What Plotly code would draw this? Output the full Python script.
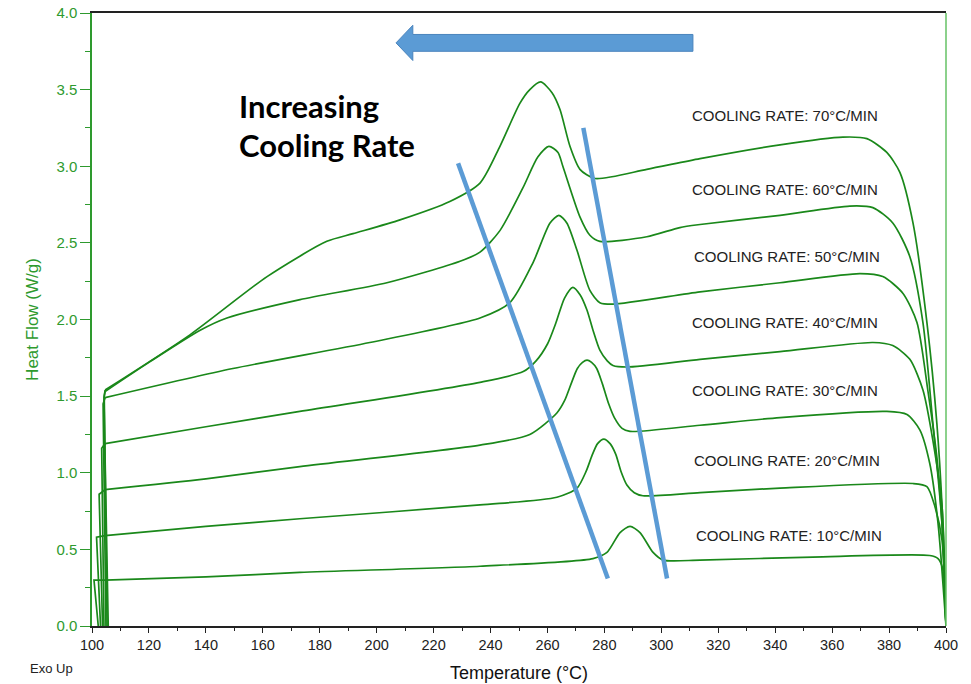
import plotly.graph_objects as go

# ---- data (temperature in °C, heat flow in W/g) ----
rate_labels = ["COOLING RATE: 70°C/MIN", "COOLING RATE: 60°C/MIN", "COOLING RATE: 50°C/MIN",
               "COOLING RATE: 40°C/MIN", "COOLING RATE: 30°C/MIN", "COOLING RATE: 20°C/MIN",
               "COOLING RATE: 10°C/MIN"]
label_hf = [3.33, 2.85, 2.41, 1.98, 1.54, 1.08, 0.59]
label_t = [343.5, 343.5, 344.0, 343.5, 343.5, 344.0, 344.8]

t70 = [400, 398.9, 396.8, 393.3, 388.4, 383.8, 379.2, 372.2, 363.8, 341.7, 313.6, 294.9,
       276.7, 271.4, 267.9, 264.4, 261.6, 257.6, 253.8, 250.3, 243.3, 236.3, 225.7, 208.2,
       191.7, 182.5, 161.5, 134.4, 104.6, 104.3, 105.3]
hf70 = [0, 0.67, 1.32, 1.98, 2.63, 2.96, 3.09, 3.18, 3.19, 3.14, 3.05, 2.98,
        2.92, 2.98, 3.13, 3.37, 3.48, 3.55, 3.50, 3.41, 3.13, 2.89, 2.77, 2.65,
        2.56, 2.51, 2.28, 1.90, 1.54, 1.50, 0]

t60 = [400, 398.6, 395.4, 391.9, 387.3, 381.3, 374.3, 366.2, 341.7, 313.6, 306.5, 294.9,
       278.4, 274.9, 271.4, 265.4, 263.7, 260.5, 256.6, 251.4, 243.3, 236.3, 229.3, 203.6,
       173.1, 147.4, 138.0, 120.0, 104.6, 104.2, 105.7]
hf60 = [0, 0.67, 1.32, 1.98, 2.41, 2.63, 2.73, 2.74, 2.68, 2.62, 2.60, 2.54,
        2.51, 2.55, 2.67, 3.00, 3.09, 3.13, 3.06, 2.86, 2.58, 2.44, 2.38, 2.24,
        2.13, 2.01, 1.93, 1.72, 1.53, 1.49, 0]

t50 = [400, 398.9, 396.8, 393.6, 389.8, 384.9, 377.8, 369.8, 341.7, 313.6, 283.0, 278.4,
       274.9, 270.4, 266.8, 264.0, 260.9, 254.9, 246.8, 236.3, 197.6, 149.5, 104.6, 103.9, 104.9]
hf50 = [0, 0.56, 1.10, 1.54, 1.98, 2.17, 2.28, 2.30, 2.24, 2.18, 2.10, 2.11,
        2.19, 2.45, 2.63, 2.68, 2.63, 2.37, 2.11, 2.01, 1.85, 1.68, 1.49, 1.45, 0]

t40 = [400, 398.6, 395.4, 391.9, 387.3, 381.3, 374.3, 341.7, 313.6, 287.9, 283.0, 281.0,
       278.4, 276.0, 273.9, 271.5, 268.9, 266.0, 263.0, 260.0, 256.0, 251.5, 236.3, 173.0,
       140.0, 104.6, 103.4, 104.2]
hf40 = [0, 0.78, 1.21, 1.54, 1.74, 1.83, 1.85, 1.79, 1.74, 1.69, 1.70, 1.73,
        1.80, 1.93, 2.06, 2.16, 2.21, 2.14, 1.98, 1.84, 1.73, 1.66, 1.59, 1.40,
        1.30, 1.19, 1.16, 0]

t30 = [400, 397.2, 394.3, 390.8, 386.3, 379.2, 341.7, 313.6, 289.0, 286.2, 283.5, 281.5,
       279.3, 277.3, 275.5, 273.9, 272.3, 270.5, 268.5, 266.0, 263.3, 253.8, 236.3, 173.0,
       140.0, 104.6, 102.5, 103.7]
hf30 = [0, 0.67, 1.06, 1.28, 1.38, 1.40, 1.36, 1.31, 1.27, 1.29, 1.36, 1.45,
        1.58, 1.68, 1.72, 1.735, 1.72, 1.68, 1.59, 1.47, 1.39, 1.25, 1.18, 1.04,
        0.96, 0.89, 0.86, 0]

t20 = [400, 398.6, 396.1, 393.3, 388.4, 341.7, 313.6, 293.5, 290.5, 287.9, 285.8, 284.0,
       282.0, 279.8, 277.6, 275.6, 273.6, 270.4, 263.3, 236.3, 173.0, 140.0, 104.6, 101.6, 103.0]
hf20 = [0, 0.56, 0.78, 0.91, 0.93, 0.90, 0.87, 0.85, 0.87, 0.92, 1.01, 1.12,
        1.19, 1.22, 1.19, 1.11, 1.01, 0.90, 0.84, 0.79, 0.70, 0.65, 0.59, 0.58, 0]

t10 = [400, 399.6, 398.9, 397.2, 394.3, 353.2, 313.6, 300.6, 297.1, 292.5, 289.0, 285.5,
       280.9, 276.0, 236.3, 173.0, 140.0, 104.6, 100.7, 102.2]
hf10 = [0, 0.20, 0.37, 0.44, 0.46, 0.45, 0.43, 0.43, 0.48, 0.61, 0.65, 0.61,
        0.48, 0.44, 0.39, 0.35, 0.32, 0.30, 0.30, 0]

curves = [(t70, hf70), (t60, hf60), (t50, hf50), (t40, hf40), (t30, hf30), (t20, hf20), (t10, hf10)]

# guide lines & arrow (data coordinates)
guide1 = [(228.6, 3.02), (281.2, 0.31)]
guide2 = [(272.6, 3.25), (302.0, 0.31)]
arrow_body_t = [212.7, 311.1]
arrow_body_hf = [3.75, 3.86]
arrow_head = [(206.8, 3.805), (212.7, 3.92), (212.7, 3.69)]

x_ticks = list(range(100, 401, 20))
y_ticks = [0.0, 0.5, 1.0, 1.5, 2.0, 2.5, 3.0, 3.5, 4.0]

GREEN = "#1a881a"
AXGREEN = "#2e9a2e"
BLUE = "#5B9BD5"

fig = go.Figure()
for t, hf in curves:
    # smooth body of the curve
    fig.add_trace(go.Scatter(x=t[:-2], y=hf[:-2], mode="lines",
                             line=dict(color=GREEN, width=1.7, shape="spline", smoothing=0.7),
                             hoverinfo="skip", showlegend=False))
    # sharp end transient at the low-temperature end
    fig.add_trace(go.Scatter(x=t[-3:], y=hf[-3:], mode="lines",
                             line=dict(color=GREEN, width=1.7),
                             hoverinfo="skip", showlegend=False))

for (x0, y0), (x1, y1) in (guide1, guide2):
    fig.add_shape(type="line", x0=x0, y0=y0, x1=x1, y1=y1, xref="x", yref="y",
                  line=dict(color=BLUE, width=4.5))

(hx, hy), (bx, by_top), (_, by_bot) = arrow_head
path = (f"M {hx},{hy} L {bx},{by_top} L {bx},{arrow_body_hf[1]} "
        f"L {arrow_body_t[1]},{arrow_body_hf[1]} L {arrow_body_t[1]},{arrow_body_hf[0]} "
        f"L {bx},{arrow_body_hf[0]} L {bx},{by_bot} Z")
fig.add_shape(type="path", path=path, xref="x", yref="y",
              fillcolor=BLUE, line=dict(color="#4a84bd", width=1))

# right border (light green)
fig.add_shape(type="line", x0=1, x1=1, y0=0, y1=1, xref="paper", yref="paper",
              line=dict(color="#66c266", width=1.5))

for txt, tt, yy in zip(rate_labels, label_t, label_hf):
    fig.add_annotation(x=tt, y=yy, text=txt, showarrow=False, xref="x", yref="y",
                       font=dict(family="Liberation Sans, Arial", size=15, color="#222222"))

fig.add_annotation(x=150.9, y=3.395, text="<b>Increasing</b>", showarrow=False,
                   xanchor="left", yanchor="middle",
                   font=dict(family="Lato", size=31, color="#000000"))
fig.add_annotation(x=150.9, y=3.14, text="<b>Cooling Rate</b>", showarrow=False,
                   xanchor="left", yanchor="middle",
                   font=dict(family="Lato", size=31, color="#000000"))

fig.add_annotation(x=-0.048, y=-0.069, xref="paper", yref="paper", text="Exo Up",
                   xanchor="center", yanchor="middle",
                   showarrow=False, font=dict(family="Liberation Sans, Arial", size=13, color="#222222"))

fig.update_layout(
    width=971, height=684,
    margin=dict(l=92, r=25, t=13, b=58),
    paper_bgcolor="white", plot_bgcolor="white",
    font=dict(family="Liberation Sans, Arial"),
    xaxis=dict(range=[100, 400], tickvals=x_ticks, ticks="outside", ticklen=5,
               tickcolor="#222222", showgrid=False, zeroline=False, automargin=False,
               showline=True, linecolor="#222222", linewidth=1.5, mirror=True,
               tickfont=dict(size=14.5, color="#222222"),
               minor=dict(dtick=10, ticks="outside", ticklen=3, tickcolor="#222222"),
               title=dict(text="Temperature (°C)", font=dict(size=18, color="#111111"), standoff=14)),
    yaxis=dict(range=[0, 4], tickvals=y_ticks, tickformat=".1f", ticks="outside", ticklen=10,
               tickcolor=AXGREEN, showgrid=False, zeroline=False, automargin=False,
               showline=True, linecolor=AXGREEN, linewidth=1.5,
               tickfont=dict(size=15, color=AXGREEN),
               minor=dict(dtick=0.25, ticks="outside", ticklen=5, tickcolor=AXGREEN),
               title=dict(text="Heat Flow (W/g)", font=dict(size=17, color=AXGREEN), standoff=13)),
)

fig.write_html("out.html", config={"displayModeBar": False})

# remove the default page margin so the figure sits at the window origin
with open("out.html", encoding="utf-8") as f:
    html = f.read()
html = html.replace("<body>", '<body style="margin:0;padding:0;overflow:hidden">', 1)
with open("out.html", "w", encoding="utf-8") as f:
    f.write(html)
